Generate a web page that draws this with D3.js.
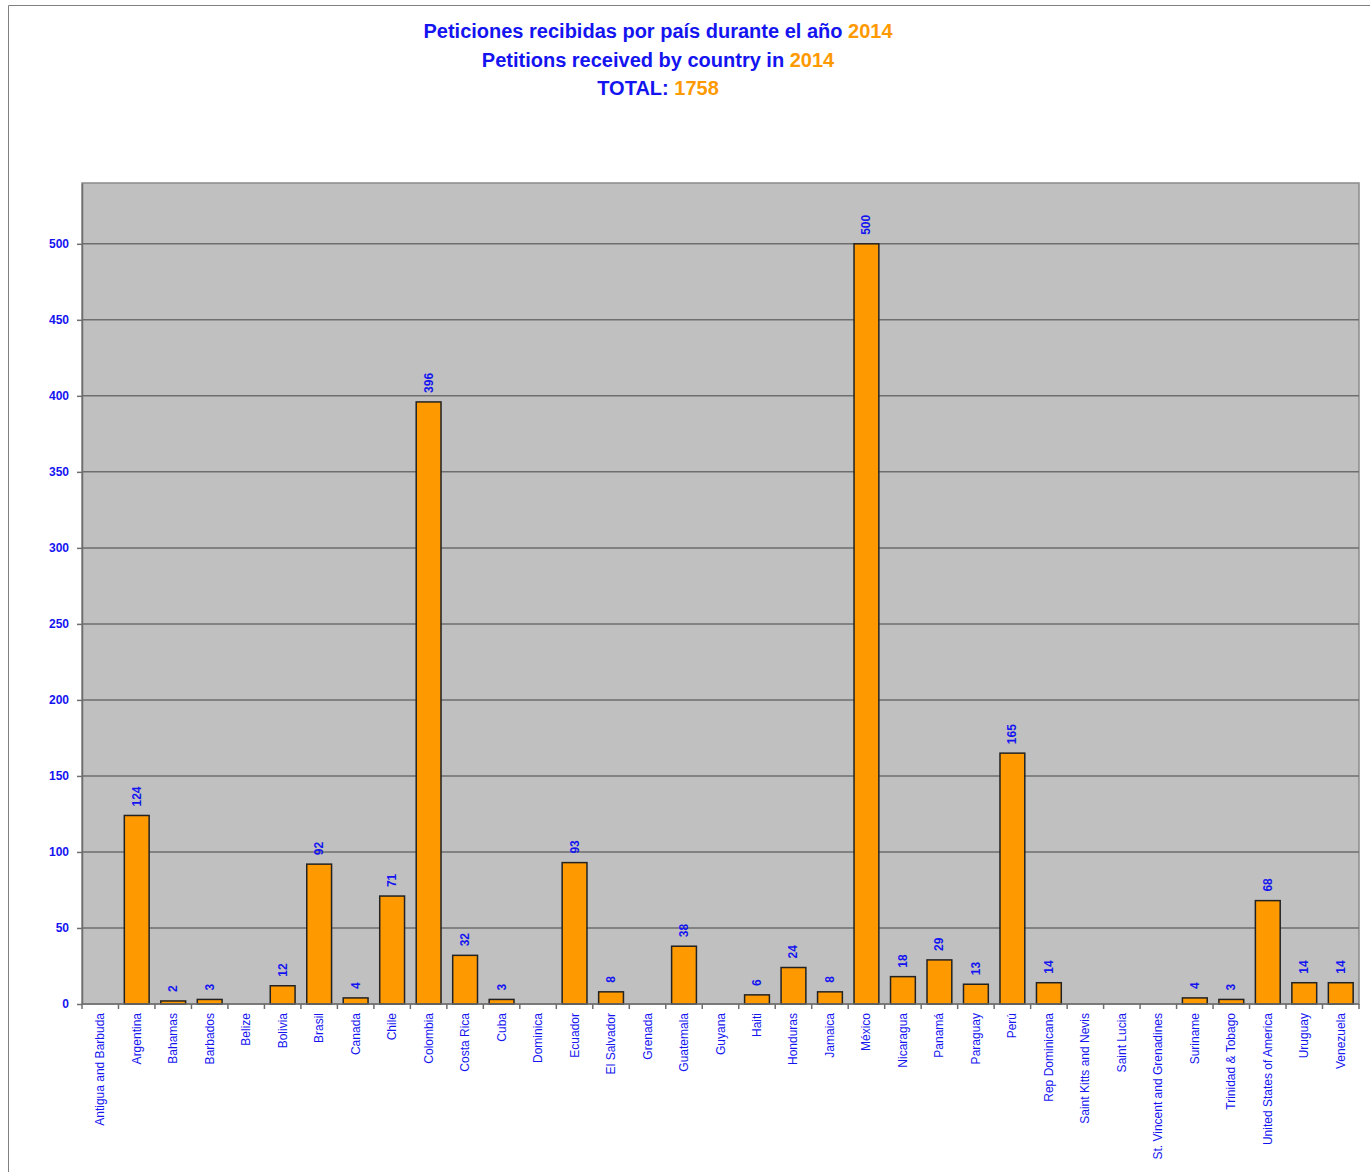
<!DOCTYPE html>
<html>
<head>
<meta charset="utf-8">
<script src="https://cdn.jsdelivr.net/npm/d3@7"></script>
<style>
  body { margin: 0; background: #fff; }
  svg { display: block; }
</style>
</head>
<body>
<svg id="chart" width="1370" height="1172"></svg>
<script>
const countries = [
  "Antigua and Barbuda", "Argentina", "Bahamas", "Barbados", "Belize", "Bolivia",
  "Brasil", "Canada", "Chile", "Colombia", "Costa Rica", "Cuba", "Dominica",
  "Ecuador", "El Salvador", "Grenada", "Guatemala", "Guyana", "Haiti", "Honduras",
  "Jamaica", "México", "Nicaragua", "Panamá", "Paraguay", "Perú", "Rep Dominicana",
  "Saint Kitts and Nevis", "Saint Lucia", "St. Vincent and Grenadines", "Suriname",
  "Trinidad & Tobago", "United States of America", "Uruguay", "Venezuela"
];
const petitions = [
  0, 124, 2, 3, 0, 12, 92, 4, 71, 396, 32, 3, 0, 93, 8, 0, 38, 0, 6, 24,
  8, 500, 18, 29, 13, 165, 14, 0, 0, 0, 4, 3, 68, 14, 14
];
const yTicks = [0, 50, 100, 150, 200, 250, 300, 350, 400, 450, 500];
const year = "2014";
const total = "1758";

const blue = "#1414f0";
const orange = "#ff9900";

const svg = d3.select("#chart");
const font = "'Liberation Sans', Arial, sans-serif";

// frame
svg.append("path")
  .attr("d", "M8.5,1172 V5.5 H1370")
  .attr("fill", "none")
  .attr("stroke", "#808080")
  .attr("stroke-width", 1);

// title
const titleLines = [
  [["Peticiones recibidas por país durante el año ", blue], [year, orange]],
  [["Petitions received by country in ", blue], [year, orange]],
  [["TOTAL: ", blue], [total, orange]]
];
titleLines.forEach((parts, i) => {
  const t = svg.append("text")
    .attr("x", 658)
    .attr("y", 38 + i * 28.5)
    .attr("text-anchor", "middle")
    .style("font-family", font)
    .style("font-weight", "bold")
    .style("font-size", "20px");
  parts.forEach(([s, c]) => t.append("tspan").attr("fill", c).text(s));
});

const plotLeft = 82, plotRight = 1359, plotTop = 183, plotBottom = 1004;

const x = d3.scaleBand().domain(countries).range([plotLeft, plotRight]).paddingInner(0.32).paddingOuter(0.16);
const y = d3.scaleLinear().domain([0, 540]).range([plotBottom, plotTop]);

// plot area
svg.append("rect")
  .attr("x", plotLeft).attr("y", plotTop)
  .attr("width", plotRight - plotLeft).attr("height", plotBottom - plotTop)
  .attr("fill", "#c0c0c0")
  .attr("stroke", "#8a8a8a")
  .attr("stroke-width", 1.5);

// gridlines
svg.append("g")
  .selectAll("line")
  .data(yTicks.filter((d) => d > 0))
  .join("line")
  .attr("x1", plotLeft).attr("x2", plotRight)
  .attr("y1", (d) => y(d)).attr("y2", (d) => y(d))
  .attr("stroke", "#6e6e6e")
  .attr("stroke-width", 1.5);

// y axis
const yAxis = svg.append("g")
  .attr("transform", `translate(${plotLeft},0)`)
  .call(d3.axisLeft(y).tickValues(yTicks).tickSize(5).tickSizeOuter(0).tickPadding(8));
yAxis.select(".domain").attr("stroke", "#6e6e6e").attr("stroke-width", 1.5);
yAxis.selectAll(".tick line").attr("stroke", "#6e6e6e").attr("stroke-width", 1.5);
yAxis.selectAll(".tick text")
  .attr("fill", blue)
  .style("font-family", font)
  .style("font-weight", "bold")
  .style("font-size", "12px");

// bars
svg.append("g")
  .selectAll("rect")
  .data(petitions)
  .join("rect")
  .attr("x", (d, i) => x(countries[i]))
  .attr("y", (d) => y(d))
  .attr("width", x.bandwidth())
  .attr("height", (d) => y(0) - y(d))
  .attr("fill", orange)
  .attr("stroke", "#222")
  .attr("stroke-width", 1.5)
  .style("display", (d) => (d > 0 ? null : "none"));

// x axis (category boundaries)
const step = x.step();
const bounds = d3.range(countries.length + 1).map((i) => plotLeft + i * step);
svg.append("line")
  .attr("x1", plotLeft).attr("x2", plotRight)
  .attr("y1", plotBottom).attr("y2", plotBottom)
  .attr("stroke", "#6e6e6e")
  .attr("stroke-width", 1.5);
svg.append("g")
  .selectAll("line")
  .data(bounds)
  .join("line")
  .attr("x1", (d) => d).attr("x2", (d) => d)
  .attr("y1", plotBottom).attr("y2", plotBottom + 5)
  .attr("stroke", "#6e6e6e")
  .attr("stroke-width", 1.5);

svg.append("g")
  .selectAll("text")
  .data(countries)
  .join("text")
  .attr("transform", (d) => `translate(${x(d) + x.bandwidth() / 2 + 4},${plotBottom + 9}) rotate(-90)`)
  .attr("text-anchor", "end")
  .attr("fill", blue)
  .style("font-family", font)
  .style("font-size", "12px")
  .text((d) => d);

// value labels
svg.append("g")
  .selectAll("text")
  .data(petitions)
  .join("text")
  .attr("transform", (d, i) => `translate(${x(countries[i]) + x.bandwidth() / 2 + 4},${y(d) - 9}) rotate(-90)`)
  .attr("text-anchor", "start")
  .attr("fill", blue)
  .style("font-family", font)
  .style("font-weight", "bold")
  .style("font-size", "12px")
  .text((d) => (d > 0 ? d : ""));
</script>
</body>
</html>
